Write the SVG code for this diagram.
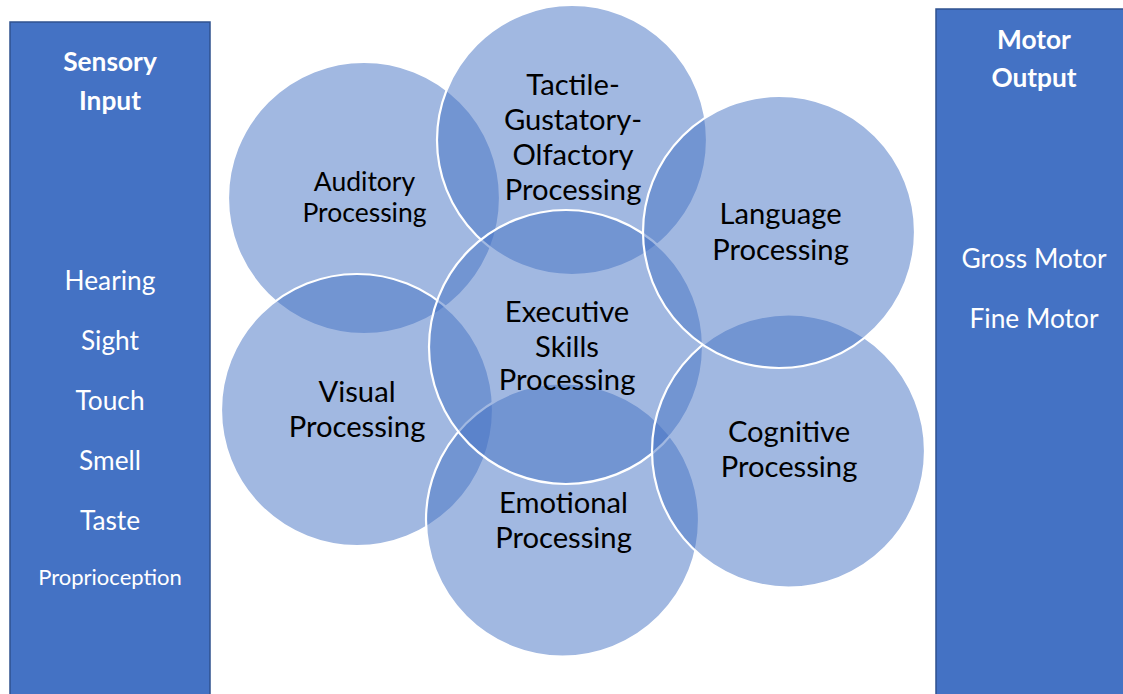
<svg xmlns="http://www.w3.org/2000/svg" width="1123" height="694" viewBox="0 0 1123 694">
<style>
.panel{fill:#4472C4;stroke:#2F528F;stroke-width:1.5}
.c{fill:#4472C4;fill-opacity:0.5;stroke:#FFFFFF;stroke-width:2.2}
.t{font-family:Lato,"Open Sans","Liberation Sans",sans-serif;font-size:29.2px;fill:#000;text-anchor:middle}
.ts{font-size:26.5px}
.w{font-family:Lato,"Open Sans","Liberation Sans",sans-serif;font-size:26.3px;fill:#fff;text-anchor:middle}
.b{font-weight:bold}
.sm{font-size:22px}
</style>
<rect width="1123" height="694" fill="#fff"/>
<g id="sensory-input">
<rect class="panel" x="10" y="22" width="200" height="680"/>
<text class="w b" x="110" y="71">Sensory</text>
<text class="w b" x="110" y="110">Input</text>
<text class="w" x="110" y="290">Hearing</text>
<text class="w" x="110" y="350">Sight</text>
<text class="w" x="110" y="410">Touch</text>
<text class="w" x="110" y="470">Smell</text>
<text class="w" x="110" y="530">Taste</text>
<text class="w sm" x="110" y="585">Proprioception</text>
</g>
<g id="motor-output">
<rect class="panel" x="936" y="9" width="200" height="700"/>
<text class="w b" x="1034" y="49">Motor</text>
<text class="w b" x="1034" y="87">Output</text>
<text class="w" x="1034" y="268">Gross Motor</text>
<text class="w" x="1034" y="328">Fine Motor</text>
</g>
<g id="auditory">
<circle class="c" cx="364" cy="198" r="136"/>
<text class="t ts" x="364.5" y="191">Auditory</text>
<text class="t ts" x="364.5" y="222">Processing</text>
</g>
<g id="tactile">
<circle class="c" cx="572" cy="140" r="135"/>
<text class="t" x="573" y="95">Tactile-</text>
<text class="t" x="573" y="130">Gustatory-</text>
<text class="t" x="573" y="165">Olfactory</text>
<text class="t" x="573" y="200">Processing</text>
</g>
<g id="visual">
<circle class="c" cx="357" cy="410" r="136"/>
<text class="t" x="357" y="402">Visual</text>
<text class="t" x="357" y="437">Processing</text>
</g>
<g id="emotional">
<circle class="c" cx="562.5" cy="520" r="136.5"/>
<text class="t" x="563.5" y="513">Emotional</text>
<text class="t" x="563.5" y="548">Processing</text>
</g>
<g id="executive">
<circle class="c" cx="566" cy="347" r="137"/>
<text class="t" x="567" y="322">Executive</text>
<text class="t" x="567" y="357">Skills</text>
<text class="t" x="567" y="390">Processing</text>
</g>
<g id="cognitive">
<circle class="c" cx="788.5" cy="451" r="136.5"/>
<text class="t" x="789" y="442">Cognitive</text>
<text class="t" x="789" y="477">Processing</text>
</g>
<g id="language">
<circle class="c" cx="779" cy="232" r="136"/>
<text class="t" x="780.5" y="224">Language</text>
<text class="t" x="780.5" y="260">Processing</text>
</g>
<g id="connectors"/>
</svg>
